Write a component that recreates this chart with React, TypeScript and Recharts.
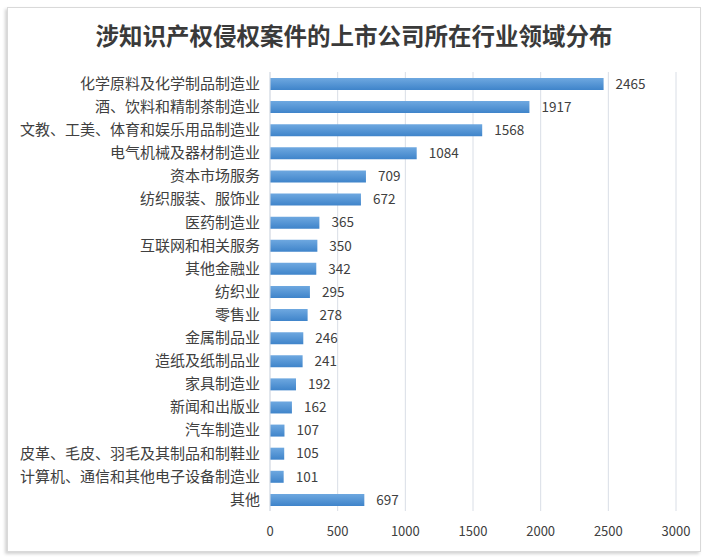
import React from "react";
import { BarChart, Bar, XAxis, YAxis, CartesianGrid, LabelList } from "recharts";

const categories = [
  "化学原料及化学制品制造业",
  "酒、饮料和精制茶制造业",
  "文教、工美、体育和娱乐用品制造业",
  "电气机械及器材制造业",
  "资本市场服务",
  "纺织服装、服饰业",
  "医药制造业",
  "互联网和相关服务",
  "其他金融业",
  "纺织业",
  "零售业",
  "金属制品业",
  "造纸及纸制品业",
  "家具制造业",
  "新闻和出版业",
  "汽车制造业",
  "皮革、毛皮、羽毛及其制品和制鞋业",
  "计算机、通信和其他电子设备制造业",
  "其他",
];
const values = [2465, 1917, 1568, 1084, 709, 672, 365, 350, 342, 295, 278, 246, 241, 192, 162, 107, 105, 101, 697];
const xTicks = [0, 500, 1000, 1500, 2000, 2500, 3000];
const title = "涉知识产权侵权案件的上市公司所在行业领域分布";

const data = categories.map((name, i) => ({ name, value: values[i] }));

export default function App() {
  return (
    <div style={{ position: "absolute", left: 0, top: 0, width: 708, height: 560, background: "#fff" }}>
      <div
        style={{
          position: "absolute",
          left: 7,
          top: 7,
          width: 692,
          height: 543,
          border: "1px solid #d9d9d9",
          boxShadow: "-2px 2px 3px rgba(0,0,0,0.18)",
          background: "#fff",
        }}
      />
      <div
        style={{
          position: "absolute",
          left: 0,
          top: 18,
          width: 708,
          textAlign: "center",
          fontFamily: "'Noto Sans CJK SC'",
          fontSize: 23.5,
          fontWeight: "bold",
          color: "#3a3a3a",
          lineHeight: "34px",
        }}
      >
        {title}
      </div>
      <div style={{ position: "absolute", left: 0, top: 0 }}>
        <BarChart
          width={708}
          height={560}
          data={data}
          layout="vertical"
          margin={{ top: 72, right: 32, bottom: 19, left: 0 }}
        >
          <defs>
            <linearGradient id="barGrad" x1="0" y1="0" x2="0" y2="1">
              <stop offset="0%" stopColor="#6ea8e0" />
              <stop offset="100%" stopColor="#3f84ca" />
            </linearGradient>
          </defs>
          <CartesianGrid horizontal={false} stroke="#d9dee6" />
          <XAxis
            type="number"
            domain={[0, 3000]}
            ticks={xTicks}
            axisLine={false}
            tickLine={false}
            height={30}
            tickMargin={10}
            tick={{ fill: "#404040", fontSize: 13, fontFamily: "'Noto Sans CJK SC'" }}
          />
          <YAxis
            type="category"
            dataKey="name"
            width={270}
            axisLine={{ stroke: "#d9dee6" }}
            tickLine={false}
            tickSize={8}
            tickMargin={2}
            interval={0}
            tick={{ fill: "#404040", fontSize: 15, fontFamily: "'Noto Sans CJK SC'" }}
          />
          <Bar dataKey="value" fill="url(#barGrad)" barSize={12} isAnimationActive={false}>
            <LabelList
              dataKey="value"
              position="right"
              offset={12}
              style={{ fill: "#404040", fontSize: 13.5, fontFamily: "'Noto Sans CJK SC'" }}
            />
          </Bar>
        </BarChart>
      </div>
    </div>
  );
}
